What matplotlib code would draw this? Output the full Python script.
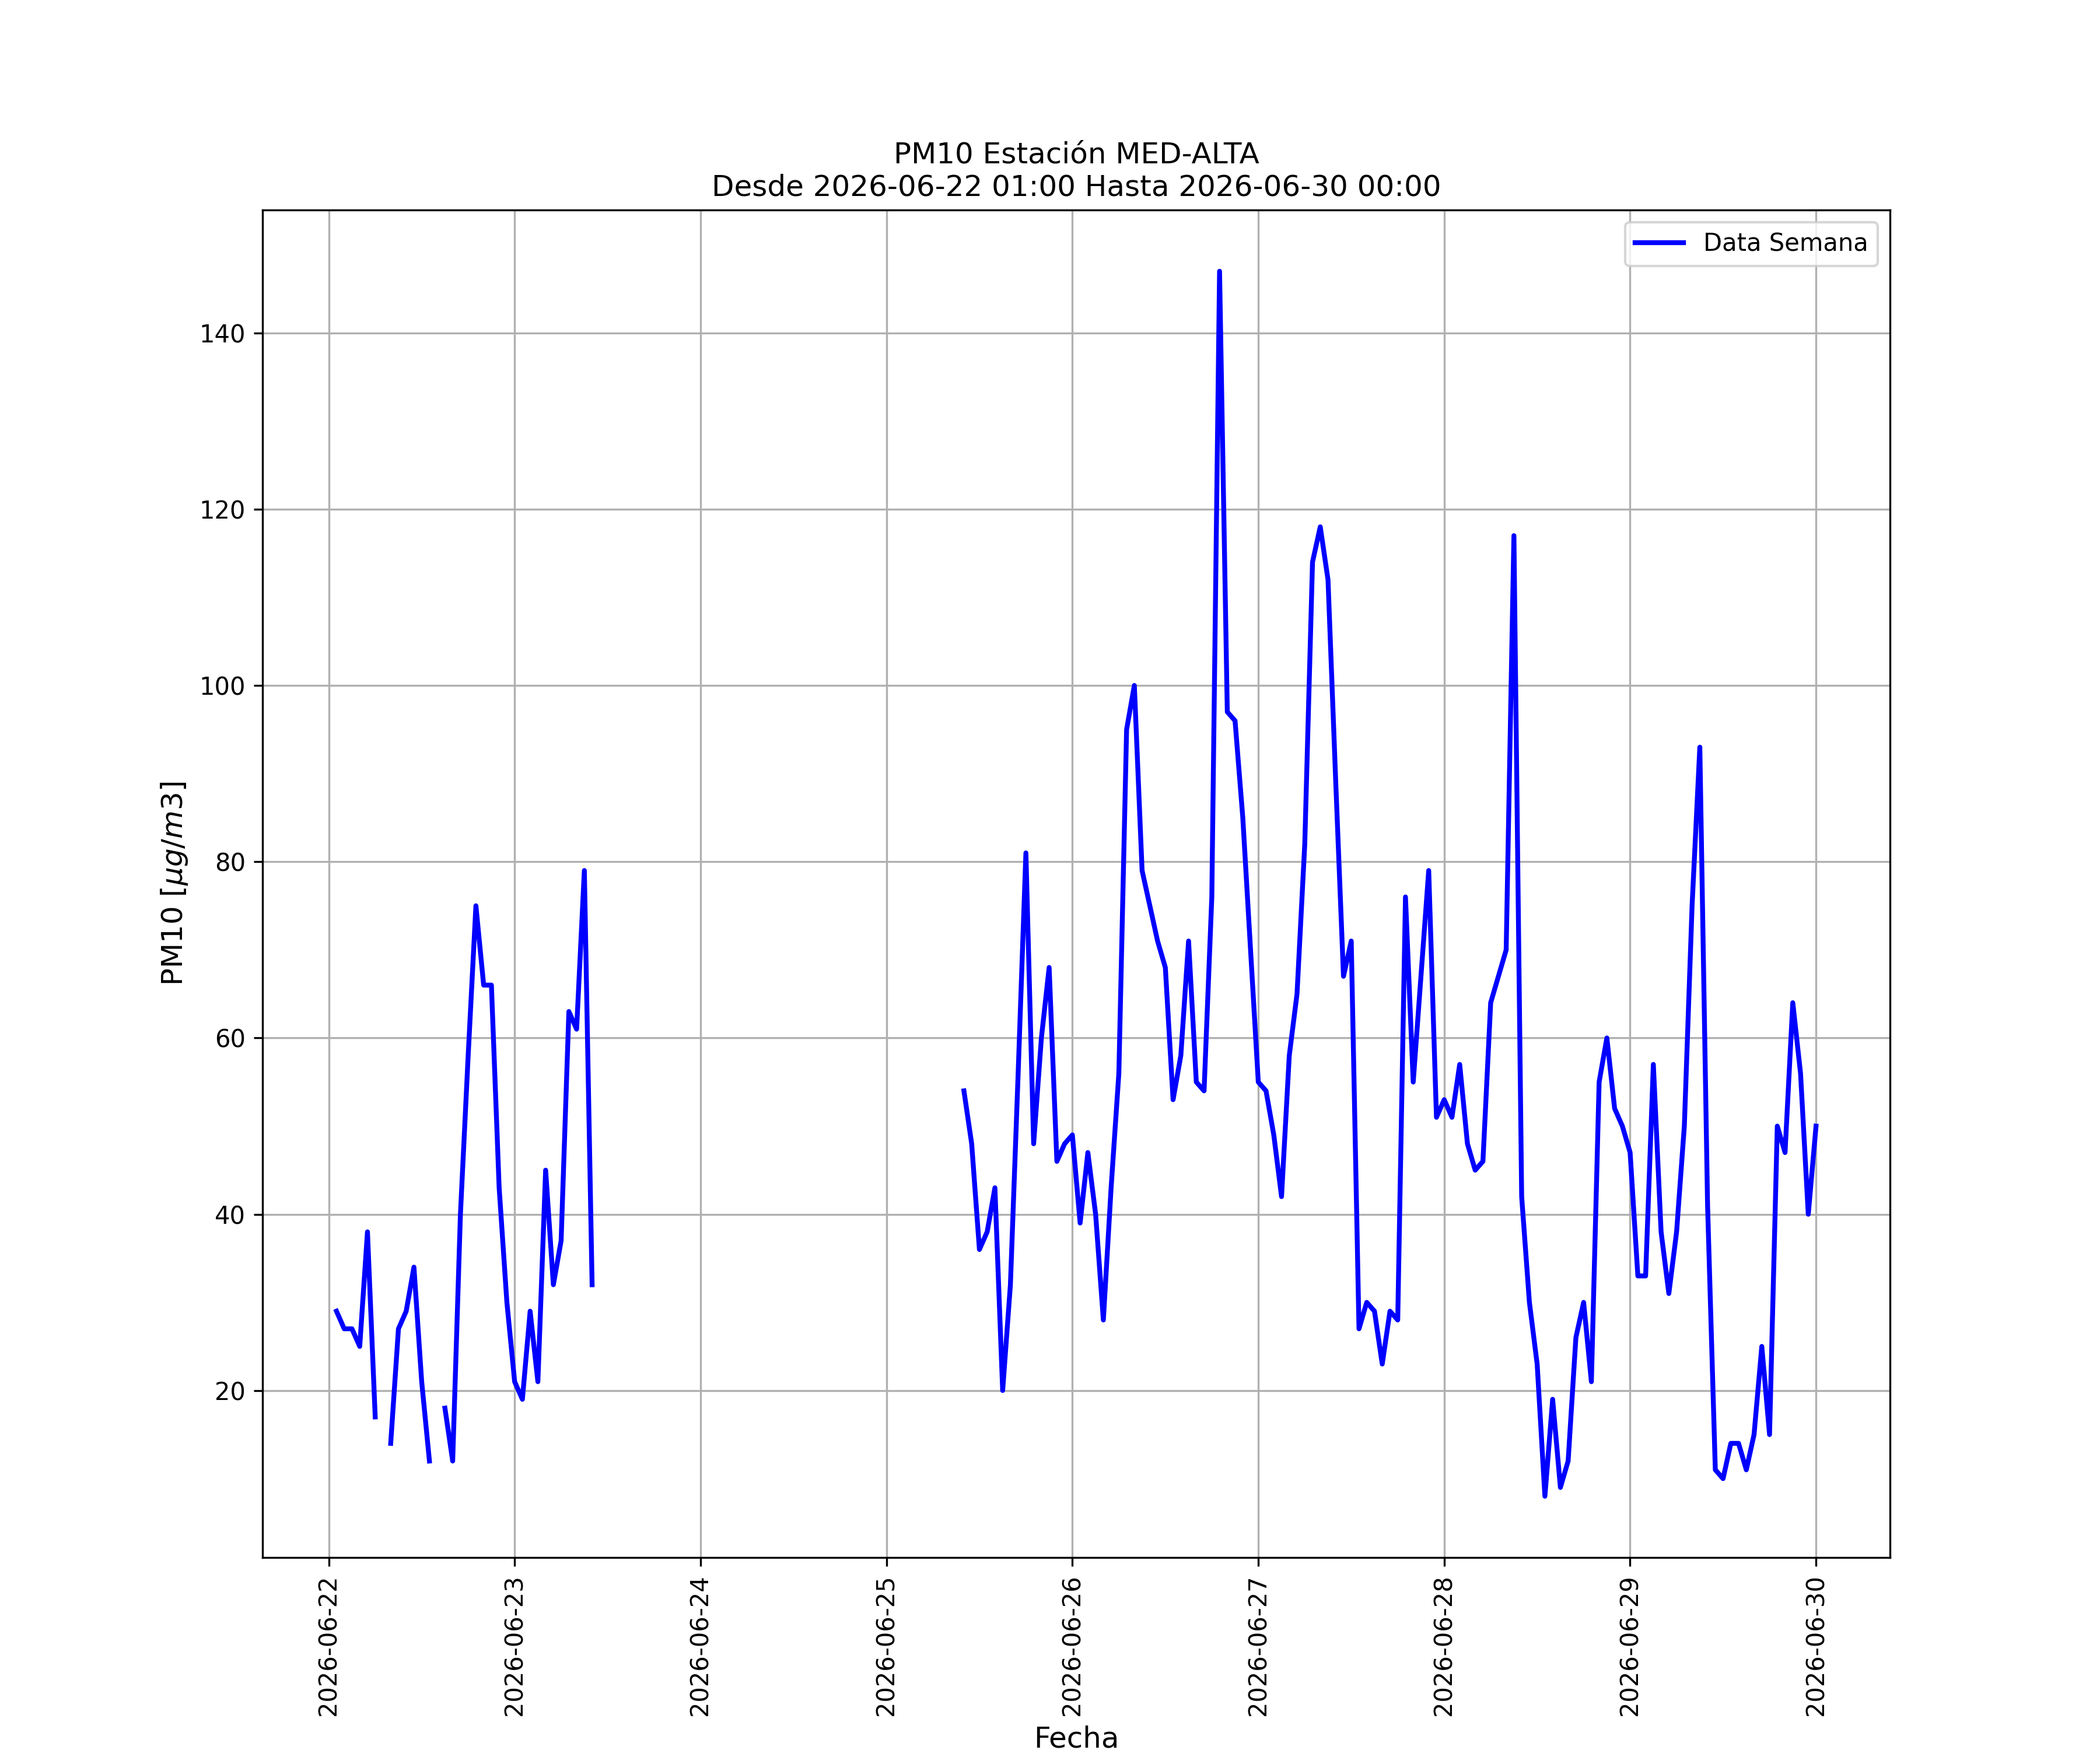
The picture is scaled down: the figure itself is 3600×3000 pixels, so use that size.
import matplotlib
matplotlib.use("Agg")
import matplotlib.pyplot as plt
import matplotlib.dates as mdates
import numpy as np
import pandas as pd

# Hourly PM10 readings, one list per day (h01 .. h23 plus next day's 00:00)
nan = np.nan
pm10_jun22 = [29, 27, 27, 25, 38, 17, nan, 14, 27, 29, 34, 21,
              12, nan, 18, 12, 40, 58, 75, 66, 66, 43, 30, 21]
pm10_jun23 = [19, 29, 21, 45, 32, 37, 63, 61, 79, 32, nan, nan,
              nan, nan, nan, nan, nan, nan, nan, nan, nan, nan, nan, nan]
pm10_jun24 = [nan] * 24
pm10_jun25 = [nan, nan, nan, nan, nan, nan, nan, nan, nan, 54, 48, 36,
              38, 43, 20, 32, 56, 81, 48, 60, 68, 46, 48, 49]
pm10_jun26 = [39, 47, 40, 28, 43, 56, 95, 100, 79, 75, 71, 68,
              53, 58, 71, 55, 54, 76, 147, 97, 96, 85, 70, 55]
pm10_jun27 = [54, 49, 42, 58, 65, 82, 114, 118, 112, 89, 67, 71,
              27, 30, 29, 23, 29, 28, 76, 55, 67, 79, 51, 53]
pm10_jun28 = [51, 57, 48, 45, 46, 64, 67, 70, 117, 42, 30, 23,
              8, 19, 9, 12, 26, 30, 21, 55, 60, 52, 50, 47]
pm10_jun29 = [33, 33, 57, 38, 31, 38, 50, 75, 93, 41, 11, 10,
              14, 14, 11, 15, 25, 15, 50, 47, 64, 56, 40, 50]

START = "2026-06-22 01:00"
END = "2026-06-30 00:00"
STATION = "MED-ALTA"


def main() -> None:
    values = np.array(pm10_jun22 + pm10_jun23 + pm10_jun24 + pm10_jun25
                      + pm10_jun26 + pm10_jun27 + pm10_jun28 + pm10_jun29,
                      dtype=float)
    times = pd.date_range(START, END, freq="h")

    fig, ax = plt.subplots(figsize=(12, 10), dpi=300)
    ax.plot(times, values, color="blue", linewidth=2, label="Data Semana")

    ax.set_title(f"PM10 Estación {STATION}\nDesde {START} Hasta {END}")
    ax.set_xlabel("Fecha", fontsize=12)
    ax.set_ylabel(r"PM10 [$\mu g/m3$]", fontsize=12)
    ax.xaxis.set_major_locator(mdates.DayLocator())
    ax.xaxis.set_major_formatter(mdates.DateFormatter("%Y-%m-%d"))
    plt.setp(ax.get_xticklabels(), rotation=90)
    ax.grid(True)
    ax.legend(loc="upper right")

    fig.savefig("out.png", dpi=300)


if __name__ == "__main__":
    main()
